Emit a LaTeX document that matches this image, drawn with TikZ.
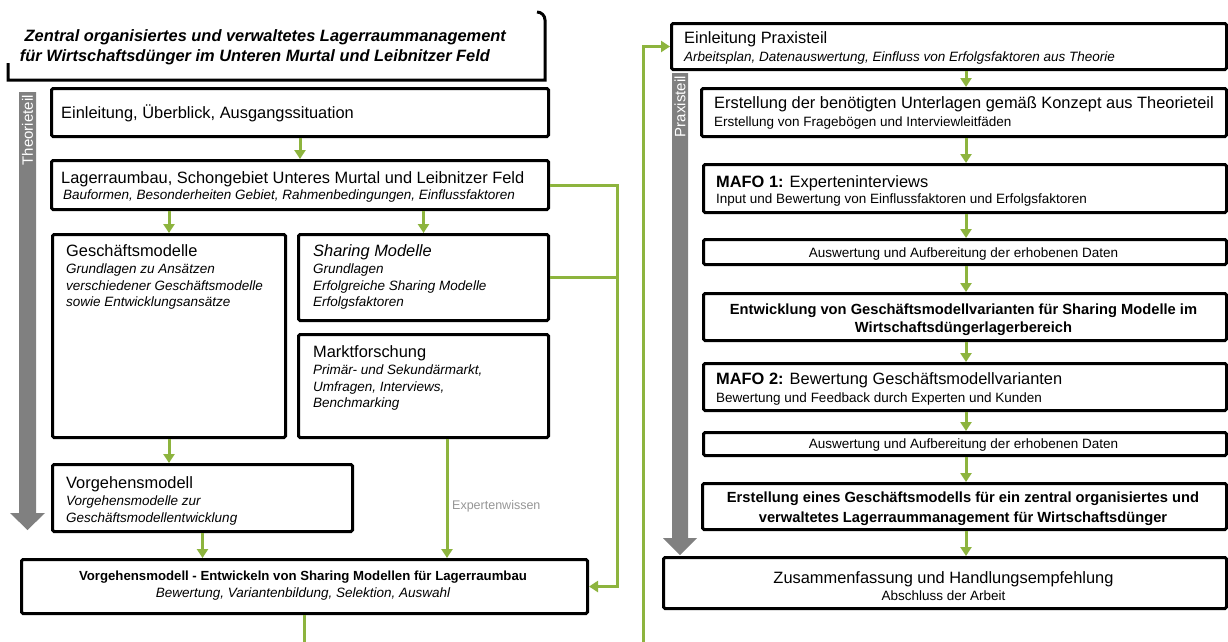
\documentclass[tikz,border=0pt]{standalone}
\usepackage{fontspec}
\setmainfont{Liberation Sans}
\usetikzlibrary{arrows.meta}
\definecolor{leaf}{RGB}{141,180,62}
\definecolor{barfill}{RGB}{128,128,128}
\definecolor{hint}{RGB}{150,150,150}
\begin{document}
\begin{tikzpicture}[x=1pt,y=-1pt,
  box/.style={draw=black, line width=3pt, rounded corners=1.5pt, fill=white, inner sep=0pt, anchor=north west},
  txt/.style={inner sep=0pt, anchor=base west},
  ctr/.style={inner sep=0pt, anchor=base},
  lg/.style={font=\fontsize{16.4}{20}\selectfont},
  lgit/.style={font=\fontsize{16.4}{20}\selectfont\itshape},
  headline/.style={font=\fontsize{16.4}{20}\selectfont\bfseries\itshape},
  sm/.style={font=\fontsize{13.5}{16}\selectfont},
  smit/.style={font=\fontsize{13.5}{16}\selectfont\itshape},
  bd/.style={font=\fontsize{14.7}{18}\selectfont\bfseries},
  bdsm/.style={font=\fontsize{13.2}{16}\selectfont\bfseries},
  barlabel/.style={inner sep=0pt, rotate=90, anchor=east, text=white, font=\fontsize{15}{18}\selectfont},
  ga/.style={draw=leaf, line width=3pt, -{Triangle[width=11pt,length=9pt]}},
  gl/.style={draw=leaf, line width=3pt}
]
\useasboundingbox (0,0) rectangle (1228,641);
\fill[white] (0,0) rectangle (1228,641);

% heading frame (open at its upper left)
\draw[line width=3pt] (8,63) -- (8,80) -- (545,80) -- (545,20) .. controls (545,15.6) and (541.4,12) .. (537,12);
\node[txt, headline] (head1) at (24.5,41) {Zentral organisiertes und verwaltetes Lagerraummanagement};
\node[txt, headline] (head2) at (19.7,61) {für Wirtschaftsdünger im Unteren Murtal und Leibnitzer Feld};

% phase bars
\fill[barfill] (19,92) -- (36,92) -- (36,513) -- (45,513) -- (27.5,530) -- (10,513) -- (19,513) -- cycle;
\node[barlabel] (theorie) at (27.5,95) {Theorieteil};
\fill[barfill] (672,73) -- (688,73) -- (688,538) -- (697,538) -- (680,555) -- (663,538) -- (672,538) -- cycle;
\node[barlabel] (praxis) at (680,76) {Praxisteil};

% ---------- theory part ----------
\node[box, minimum width=497pt, minimum height=48pt] (einl) at (50,87) {};
\node[txt, lg] (einlA) at (61,118) {Einleitung, Überblick, Ausgangssituation};

\node[box, minimum width=497pt, minimum height=49pt] (lager) at (50,159) {};
\node[txt, lg] (lagerA) at (61,183) {Lagerraumbau, Schongebiet Unteres Murtal und Leibnitzer Feld};
\node[txt, smit] (lagerB) at (63,199) {Bauformen, Besonderheiten Gebiet, Rahmenbedingungen, Einflussfaktoren};

\node[box, minimum width=233pt, minimum height=203pt] (gesch) at (51,233) {};
\node[txt, lg] (geschA) at (66,256) {Geschäftsmodelle};
\node[txt, smit] (geschB) at (66,273) {Grundlagen zu Ansätzen};
\node[txt, smit] (geschC) at (66,290) {verschiedener Geschäftsmodelle};
\node[txt, smit] (geschD) at (66,306) {sowie Entwicklungsansätze};

\node[box, minimum width=250pt, minimum height=86pt] (sharing) at (297,233) {};
\node[txt, lgit] (sharingA) at (313,256) {Sharing Modelle};
\node[txt, smit] (sharingB) at (313,273) {Grundlagen};
\node[txt, smit] (sharingC) at (313,290) {Erfolgreiche Sharing Modelle};
\node[txt, smit] (sharingD) at (313,306) {Erfolgsfaktoren};

\node[box, minimum width=250pt, minimum height=103pt] (markt) at (297,333) {};
\node[txt, lg] (marktA) at (313,357) {Marktforschung};
\node[txt, smit] (marktB) at (313,374) {Primär- und Sekundärmarkt,};
\node[txt, smit] (marktC) at (313,391) {Umfragen, Interviews,};
\node[txt, smit] (marktD) at (313,407) {Benchmarking};

\node[box, minimum width=300pt, minimum height=67pt] (vorg) at (51,463) {};
\node[txt, lg] (vorgA) at (66,488) {Vorgehensmodell};
\node[txt, smit] (vorgB) at (66,505) {Vorgehensmodelle zur};
\node[txt, smit] (vorgC) at (66,522) {Geschäftsmodellentwicklung};

\node[box, minimum width=566pt, minimum height=54pt] (final) at (20,558) {};
\node[ctr, bdsm] (finalA) at (303,580) {Vorgehensmodell - Entwickeln von Sharing Modellen für Lagerraumbau};
\node[ctr, smit] (finalB) at (303,597) {Bewertung, Variantenbildung, Selektion, Auswahl};

% ---------- practice part ----------
\node[box, minimum width=555pt, minimum height=46pt] (r1) at (670,22) {};
\node[txt, lg] (r1A) at (684,43) {Einleitung Praxisteil};
\node[txt, smit] (r1B) at (684,61) {Arbeitsplan, Datenauswertung, Einfluss von Erfolgsfaktoren aus Theorie};

\node[box, minimum width=525pt, minimum height=48pt] (r2) at (700,87) {};
\node[txt, lg] (r2A) at (714,108) {Erstellung der benötigten Unterlagen gemäß Konzept aus Theorieteil};
\node[txt, sm] (r2B) at (714,126) {Erstellung von Fragebögen und Interviewleitfäden};

\node[box, minimum width=523pt, minimum height=48pt] (r3) at (702,163) {};
\node[txt, lg] (r3A) at (716,187) {\textbf{MAFO 1:} Experteninterviews};
\node[txt, sm] (r3B) at (716,203) {Input und Bewertung von Einflussfaktoren und Erfolgsfaktoren};

\node[box, minimum width=523pt, minimum height=25pt] (r4) at (702,238) {};
\node[ctr, sm] (r4A) at (963.5,257) {Auswertung und Aufbereitung der erhobenen Daten};

\node[box, minimum width=523pt, minimum height=47pt] (r5) at (702,292) {};
\node[ctr, bd] (r5A) at (963.5,314) {Entwicklung von Geschäftsmodellvarianten für Sharing Modelle im};
\node[ctr, bd] (r5B) at (963.5,332) {Wirtschaftsdüngerlagerbereich};

\node[box, minimum width=523pt, minimum height=47pt] (r6) at (702,362) {};
\node[txt, lg] (r6A) at (716,384) {\textbf{MAFO 2:} Bewertung Geschäftsmodellvarianten};
\node[txt, sm] (r6B) at (716,402) {Bewertung und Feedback durch Experten und Kunden};

\node[box, minimum width=523pt, minimum height=23pt] (r7) at (702,431) {};
\node[ctr, sm] (r7A) at (963.5,448) {Auswertung und Aufbereitung der erhobenen Daten};

\node[box, minimum width=524pt, minimum height=46pt] (r8) at (701,482) {};
\node[ctr, bd] (r8A) at (963,502) {Erstellung eines Geschäftsmodells für ein zentral organisiertes und};
\node[ctr, bd] (r8B) at (963,522) {verwaltetes Lagerraummanagement für Wirtschaftsdünger};

\node[box, minimum width=563pt, minimum height=51pt] (r9) at (662,556) {};
\node[ctr, lg] (r9A) at (943.5,583) {Zusammenfassung und Handlungsempfehlung};
\node[ctr, sm] (r9B) at (943.5,600) {Abschluss der Arbeit};

% ---------- connectors ----------
\coordinate (mx) at (447,0);
\coordinate (rx) at (617,0);
\coordinate (ax) at (966,0);
\coordinate (loop) at (643,700);

\draw[ga] (einl.south) -- (lager.north);
\draw[ga] (lager.south -| gesch.north) -- (gesch.north);
\draw[ga] (lager.south -| sharing.north) -- (sharing.north);
\draw[ga] (gesch.south) -- (vorg.north -| gesch.south);
\draw[ga] (vorg.south) -- (final.north -| vorg.south);
\draw[ga] (markt.south -| mx) -- (final.north -| mx);
\node[txt, text=hint, font=\fontsize{12.5}{15}\selectfont] (expert) at (452,509.5) {Expertenwissen};

\draw[ga] (lager.east) -- (lager.east -| rx) -- (final.east -| rx) -- (final.east);
\draw[gl] (sharing.east) -- (sharing.east -| rx);

\draw[ga] (final.south) |- (loop) |- (r1.west);

\draw[ga] (r1.south -| ax) -- (r2.north -| ax);
\draw[ga] (r2.south -| ax) -- (r3.north -| ax);
\draw[ga] (r3.south -| ax) -- (r4.north -| ax);
\draw[ga] (r4.south -| ax) -- (r5.north -| ax);
\draw[ga] (r5.south -| ax) -- (r6.north -| ax);
\draw[ga] (r6.south -| ax) -- (r7.north -| ax);
\draw[ga] (r7.south -| ax) -- (r8.north -| ax);
\draw[ga] (r8.south -| ax) -- (r9.north -| ax);
\end{tikzpicture}
\end{document}
